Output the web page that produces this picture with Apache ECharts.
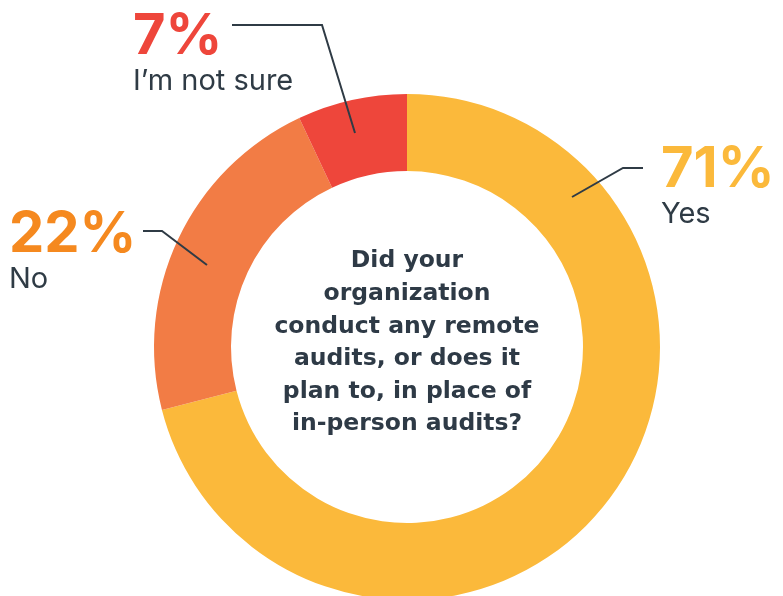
<!DOCTYPE html>
<html>
<head>
<meta charset="utf-8">
<script src="https://cdn.jsdelivr.net/npm/echarts@6/dist/echarts.min.js"></script>
<style>html,body{margin:0;padding:0;background:#fff;}#c{width:783px;height:596px;}</style>
</head>
<body>
<div id="c"></div>
<script>
const categories = ['Yes', 'No', "I\u2019m not sure"];
const values = [71, 22, 7];
const sliceColors = ['#FBB93B', '#F27C45', '#EE463B'];
const pctColors = ['#FBB93B', '#F5891F', '#EE463B'];
const question = 'Did your\norganization\nconduct any remote\naudits, or does it\nplan to, in place of\nin-person audits?';

const layouts = [
  {x: 661, y: 142, pts: [[572,197],[623,168],[643,168]]},
  {x: 9, y: 207, pts: [[207,265],[162,231],[143,231]]},
  {x: 133, y: 9, pts: [[355,133],[322,25],[232,25]]}
];

const pieBase = {
  type: 'pie',
  center: [407, 347],
  radius: [176, 253],
  startAngle: 90,
  clockwise: true,
  avoidLabelOverlap: false,
  silent: true
};

const chart = echarts.init(document.getElementById('c'));
chart.setOption({
  animation: false,
  title: {
    text: question,
    left: 402, top: 240, textAlign: 'center',
    textStyle: {fontFamily: 'DejaVu Sans', fontWeight: 'bold', fontSize: 23.5, lineHeight: 32.6, color: '#2E3A46'}
  },
  series: [
    Object.assign({}, pieBase, {
      z: 1,
      label: {show: false},
      labelLine: {show: false},
      data: categories.map((c, i) => ({name: c, value: values[i], itemStyle: {color: sliceColors[i]}}))
    }),
    Object.assign({}, pieBase, {
      z: 5,
      itemStyle: {color: 'rgba(0,0,0,0)'},
      data: categories.map((c, i) => ({
        name: c, value: values[i],
        label: {
          rich: {
            p: {fontFamily: 'Inter', fontWeight: 'bold', fontSize: 56, color: pctColors[i], lineHeight: 56},
            n: {fontFamily: 'Inter', fontSize: 29, color: '#2F3B45', lineHeight: 32}
          }
        }
      })),
      label: {
        show: true, position: 'outside',
        formatter: p => '{p|' + p.value + '%}\n{n|' + p.name + '}',
        align: 'left'
      },
      labelLine: {show: true, showAbove: true, lineStyle: {color: '#2F3B45', width: 2}},
      labelLayout: function (params) {
        const l = layouts[params.dataIndex];
        return {x: l.x, y: l.y, align: 'left', verticalAlign: 'top', labelLinePoints: l.pts};
      }
    })
  ]
});
</script>
</body>
</html>
